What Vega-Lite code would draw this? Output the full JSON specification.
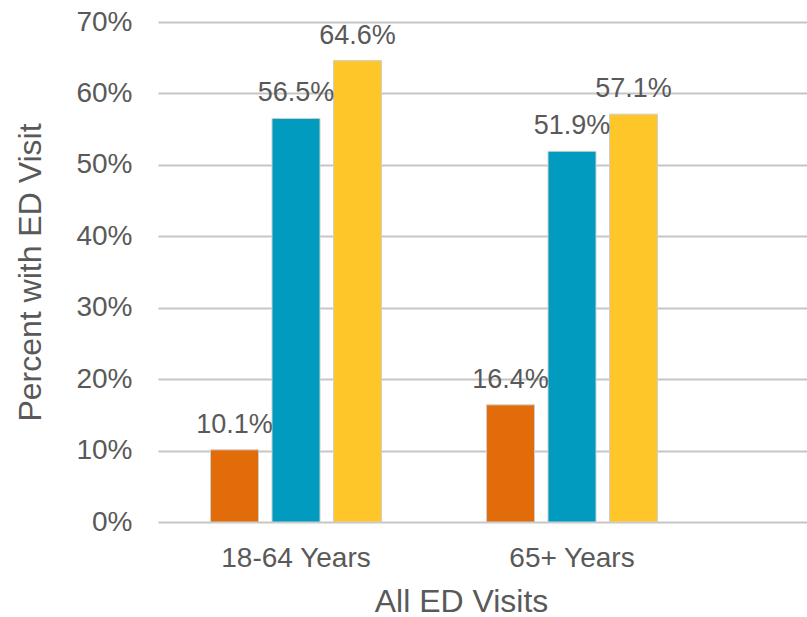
{
  "$schema": "https://vega.github.io/schema/vega-lite/v6.json",
  "width": 649,
  "height": 500,
  "autosize": {"type": "none"},
  "padding": {"left": 158, "top": 22, "right": 0, "bottom": 95},
  "background": "white",
  "config": {
    "view": {"stroke": null},
    "font": "Liberation Sans",
    "axis": {"labelFont": "Liberation Sans", "titleFont": "Liberation Sans", "labelColor": "#595959", "titleColor": "#595959", "titleFontWeight": "normal"}
  },
  "data": {
    "values": [
      {"age": "18-64 Years", "series": "Series 1", "value": 0.101, "label": "10.1%"},
      {"age": "18-64 Years", "series": "Series 2", "value": 0.565, "label": "56.5%"},
      {"age": "18-64 Years", "series": "Series 3", "value": 0.646, "label": "64.6%"},
      {"age": "65+ Years", "series": "Series 1", "value": 0.164, "label": "16.4%"},
      {"age": "65+ Years", "series": "Series 2", "value": 0.519, "label": "51.9%"},
      {"age": "65+ Years", "series": "Series 3", "value": 0.571, "label": "57.1%"}
    ]
  },
  "encoding": {
    "x": {
      "field": "age",
      "type": "nominal",
      "sort": ["18-64 Years", "65+ Years"],
      "scale": {"paddingInner": 0, "paddingOuter": 0.1757, "align": 0},
      "axis": {
        "title": "All ED Visits",
        "labelAngle": 0,
        "labelFontSize": 28,
        "titleFontSize": 32,
        "ticks": false,
        "domain": false,
        "labelPadding": 22,
        "titlePadding": 14,
        "titleX": 303
      }
    },
    "xOffset": {
      "field": "series",
      "type": "nominal",
      "scale": {"paddingInner": 0.2195, "paddingOuter": 0.854}
    },
    "y": {
      "field": "value",
      "type": "quantitative",
      "scale": {"domain": [0, 0.7]},
      "axis": {
        "title": "Percent with ED Visit",
        "format": ".0%",
        "values": [0, 0.1, 0.2, 0.3, 0.4, 0.5, 0.6, 0.7],
        "labelFontSize": 28,
        "titleFontSize": 32,
        "ticks": false,
        "domain": false,
        "labelPadding": 26,
        "titlePadding": 28,
        "gridColor": "#c6c6c6",
        "gridWidth": 2
      }
    }
  },
  "layer": [
    {
      "mark": {"type": "bar", "stroke": "#cfcfcf", "strokeWidth": 1},
      "encoding": {
        "color": {
          "field": "series",
          "type": "nominal",
          "scale": {"domain": ["Series 1", "Series 2", "Series 3"], "range": ["#E36C0A", "#009BBF", "#FFC62A"]},
          "legend": null
        }
      }
    },
    {
      "mark": {"type": "text", "baseline": "alphabetic", "dy": -17, "fontSize": 27, "color": "#595959"},
      "encoding": {"text": {"field": "label"}}
    }
  ]
}
